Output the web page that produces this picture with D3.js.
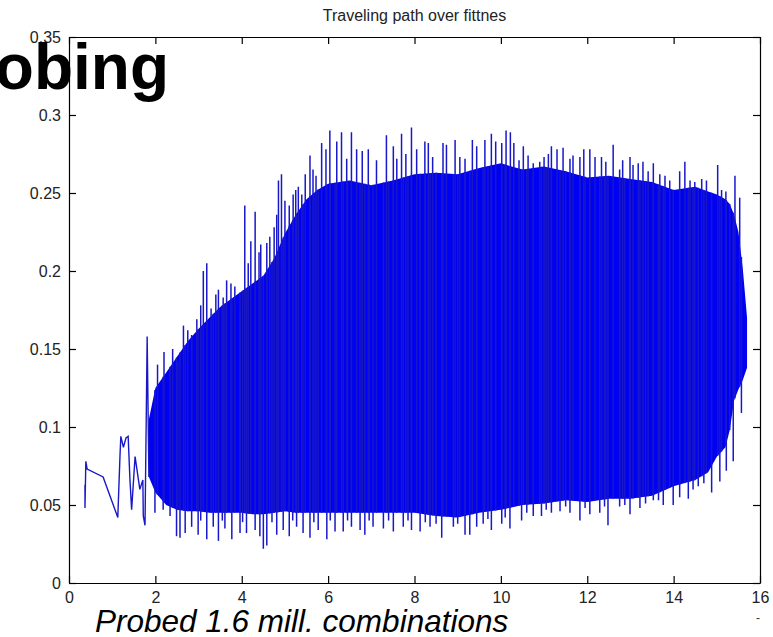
<!DOCTYPE html>
<html>
<head>
<meta charset="utf-8">
<script src="https://cdn.jsdelivr.net/npm/d3@7"></script>
<style>
  html, body { margin: 0; padding: 0; background: #fff; }
  svg { display: block; }
</style>
</head>
<body>
<div id="chart"></div>
<script>
// tick values / labels
var xTicks = [0, 2, 4, 6, 8, 10, 12, 14, 16];
var yTicks = [0, 0.05, 0.1, 0.15, 0.2, 0.25, 0.3, 0.35];
var yTickLabels = ["0", "0.05", "0.1", "0.15", "0.2", "0.25", "0.3", "0.35"];

// sparse start of the path (before the dense part)
var headX = [0.37, 0.37, 0.39, 0.42, 0.79, 1.13, 1.18, 1.20, 1.26, 1.32, 1.37, 1.41, 1.45, 1.53, 1.64, 1.71, 1.72, 1.76, 1.81, 1.85];
var headY = [0.063, 0.048, 0.078, 0.073, 0.068, 0.042, 0.081, 0.094, 0.087, 0.093, 0.094, 0.067, 0.047, 0.081, 0.060, 0.066, 0.043, 0.037, 0.158, 0.068];

// dense part: solid band, lower and upper edge
var bandX  = [1.85, 2.0, 2.25, 2.5, 2.75, 3.0, 3.25, 3.5, 3.75, 4.0, 4.25, 4.5, 4.75, 5.0, 5.25, 5.5, 5.75, 6.0, 6.5, 7.0, 7.5, 8.0, 8.5, 9.0, 9.5, 10.0, 10.5, 11.0, 11.5, 12.0, 12.5, 13.0, 13.5, 14.0, 14.5, 14.8, 15.0, 15.2, 15.3, 15.4, 15.5, 15.6, 15.7];
var bandHi = [0.105, 0.125, 0.135, 0.145, 0.155, 0.163, 0.170, 0.177, 0.182, 0.187, 0.192, 0.197, 0.208, 0.224, 0.236, 0.246, 0.252, 0.256, 0.258, 0.255, 0.258, 0.262, 0.263, 0.262, 0.266, 0.269, 0.265, 0.267, 0.264, 0.260, 0.261, 0.259, 0.257, 0.252, 0.254, 0.251, 0.249, 0.246, 0.243, 0.236, 0.225, 0.202, 0.170];
var bandLo = [0.068, 0.058, 0.050, 0.047, 0.046, 0.046, 0.045, 0.045, 0.045, 0.045, 0.044, 0.044, 0.045, 0.046, 0.045, 0.045, 0.045, 0.045, 0.045, 0.045, 0.045, 0.045, 0.043, 0.042, 0.045, 0.047, 0.050, 0.051, 0.053, 0.052, 0.054, 0.054, 0.056, 0.062, 0.066, 0.071, 0.081, 0.087, 0.098, 0.117, 0.124, 0.130, 0.138];

// peaks sticking out of the top of the band
var peakX = [2.05, 2.2, 2.4, 2.52, 2.65, 2.75, 2.84, 2.96, 3.05, 3.11, 3.19, 3.29, 3.40, 3.46, 3.57, 3.65, 3.75, 3.84, 3.96, 4.07, 4.15, 4.21, 4.31, 4.40, 4.44, 4.58, 4.65, 4.75, 4.81, 4.85, 4.92, 5.00, 5.10, 5.19, 5.25, 5.31, 5.39, 5.47, 5.58, 5.65, 5.72, 5.85, 5.95, 6.04, 6.20, 6.31, 6.43, 6.54, 6.66, 6.79, 6.93, 7.12, 7.35, 7.51, 7.59, 7.70, 7.80, 7.93, 8.05, 8.24, 8.32, 8.42, 8.66, 8.74, 8.94, 9.05, 9.17, 9.34, 9.44, 9.63, 9.78, 9.88, 10.02, 10.12, 10.22, 10.30, 10.42, 10.52, 10.63, 10.75, 10.90, 11.00, 11.10, 11.17, 11.30, 11.44, 11.60, 11.67, 11.83, 11.92, 12.06, 12.18, 12.33, 12.43, 12.60, 12.75, 12.82, 12.99, 13.06, 13.18, 13.29, 13.41, 13.53, 13.68, 13.80, 13.91, 14.14, 14.26, 14.38, 14.49, 14.65, 14.76, 15.02, 15.11, 15.21, 15.30, 15.42, 15.53];
var peakY = [0.140, 0.148, 0.150, 0.142, 0.165, 0.162, 0.159, 0.169, 0.178, 0.200, 0.205, 0.176, 0.185, 0.188, 0.183, 0.194, 0.192, 0.190, 0.177, 0.242, 0.205, 0.219, 0.238, 0.212, 0.217, 0.218, 0.222, 0.228, 0.236, 0.258, 0.262, 0.245, 0.242, 0.249, 0.252, 0.254, 0.249, 0.262, 0.274, 0.265, 0.261, 0.282, 0.278, 0.290, 0.283, 0.289, 0.272, 0.289, 0.278, 0.277, 0.278, 0.271, 0.287, 0.280, 0.272, 0.288, 0.275, 0.292, 0.278, 0.283, 0.282, 0.273, 0.282, 0.281, 0.284, 0.273, 0.272, 0.284, 0.280, 0.284, 0.288, 0.283, 0.282, 0.290, 0.289, 0.282, 0.271, 0.280, 0.274, 0.269, 0.270, 0.273, 0.275, 0.280, 0.278, 0.279, 0.272, 0.274, 0.273, 0.278, 0.278, 0.273, 0.273, 0.270, 0.281, 0.265, 0.271, 0.273, 0.268, 0.269, 0.270, 0.264, 0.269, 0.262, 0.261, 0.258, 0.264, 0.270, 0.258, 0.257, 0.259, 0.258, 0.268, 0.252, 0.251, 0.243, 0.261, 0.247];

// dips sticking out of the bottom of the band
var dipX = [1.99, 2.18, 2.34, 2.49, 2.57, 2.69, 2.84, 2.99, 3.05, 3.19, 3.34, 3.46, 3.55, 3.61, 3.77, 3.96, 4.02, 4.11, 4.31, 4.42, 4.50, 4.58, 4.70, 4.81, 4.96, 5.10, 5.18, 5.27, 5.42, 5.58, 5.67, 5.77, 5.97, 6.05, 6.16, 6.35, 6.45, 6.54, 6.74, 6.85, 6.95, 7.04, 7.28, 7.40, 7.51, 7.74, 7.85, 7.93, 8.13, 8.25, 8.36, 8.50, 8.63, 8.90, 9.00, 9.17, 9.28, 9.44, 9.59, 9.70, 9.78, 10.02, 10.10, 10.21, 10.48, 10.60, 10.75, 10.94, 11.05, 11.17, 11.37, 11.50, 11.60, 11.83, 11.95, 12.06, 12.29, 12.40, 12.48, 12.75, 12.87, 12.99, 13.22, 13.35, 13.53, 13.65, 13.76, 13.99, 14.14, 14.34, 14.45, 14.57, 14.70, 14.88, 15.07, 15.22, 15.38, 15.57];
var dipY = [0.045, 0.047, 0.043, 0.030, 0.029, 0.032, 0.036, 0.031, 0.040, 0.028, 0.036, 0.027, 0.040, 0.035, 0.028, 0.032, 0.039, 0.032, 0.034, 0.030, 0.022, 0.024, 0.039, 0.031, 0.034, 0.030, 0.040, 0.036, 0.032, 0.029, 0.039, 0.034, 0.028, 0.040, 0.033, 0.033, 0.040, 0.036, 0.034, 0.031, 0.040, 0.036, 0.035, 0.040, 0.033, 0.036, 0.040, 0.034, 0.033, 0.039, 0.036, 0.038, 0.029, 0.036, 0.038, 0.031, 0.031, 0.036, 0.038, 0.041, 0.034, 0.038, 0.042, 0.035, 0.040, 0.045, 0.043, 0.043, 0.047, 0.045, 0.046, 0.049, 0.045, 0.040, 0.048, 0.044, 0.045, 0.049, 0.037, 0.049, 0.050, 0.044, 0.048, 0.051, 0.053, 0.053, 0.050, 0.050, 0.055, 0.054, 0.060, 0.062, 0.064, 0.058, 0.065, 0.072, 0.078, 0.109];

var W = 773, H = 637;
var margin = {top: 37, right: 13, bottom: 54, left: 69};
var blue = "#0000f4";
var edgeBlue = "#1818c8";

var svg = d3.select("#chart").append("svg")
    .attr("width", W)
    .attr("height", H);

var x = d3.scaleLinear().domain([0, 16]).range([margin.left, W - margin.right]);
var y = d3.scaleLinear().domain([0, 0.35]).range([H - margin.bottom, margin.top]);

// edge lookups so each spike reaches across the band
var hiAt = d3.scaleLinear().domain(bandX).range(bandHi).clamp(true);
var loAt = d3.scaleLinear().domain(bandX).range(bandLo).clamp(true);

var plot = svg.append("g");

// solid band
var band = bandX.map(function(d, i) { return {x: d, lo: bandLo[i], hi: bandHi[i]}; });
plot.append("path")
    .datum(band)
    .attr("fill", blue)
    .attr("d", d3.area()
        .x(function(d) { return x(d.x); })
        .y0(function(d) { return y(d.lo); })
        .y1(function(d) { return y(d.hi); }));

// peaks
plot.selectAll(".peak")
    .data(peakX)
    .enter().append("line")
    .attr("class", "peak")
    .attr("x1", function(d) { return x(d); })
    .attr("x2", function(d) { return x(d); })
    .attr("y1", function(d, i) { return y(peakY[i]); })
    .attr("y2", function(d) { return y(loAt(d)); })
    .attr("stroke", edgeBlue)
    .attr("stroke-width", 1.5);

// dips
plot.selectAll(".dip")
    .data(dipX)
    .enter().append("line")
    .attr("class", "dip")
    .attr("x1", function(d) { return x(d); })
    .attr("x2", function(d) { return x(d); })
    .attr("y1", function(d, i) { return y(dipY[i]); })
    .attr("y2", function(d) { return y(hiAt(d)); })
    .attr("stroke", edgeBlue)
    .attr("stroke-width", 1.5);

// sparse head of the path
var head = headX.map(function(d, i) { return [d, headY[i]]; });
plot.append("path")
    .datum(head)
    .attr("fill", "none")
    .attr("stroke", edgeBlue)
    .attr("stroke-width", 1.4)
    .attr("d", d3.line()
        .x(function(d) { return x(d[0]); })
        .y(function(d) { return y(d[1]); }));

// axes box, ticks pointing inward (matlab style)
var tickColor = "#222";
var axisFont = "Liberation Sans, Arial, sans-serif";

var bottomAxis = svg.append("g")
    .attr("transform", "translate(0," + y(0) + ")")
    .call(d3.axisBottom(x).tickValues(xTicks).tickSizeInner(-7).tickSizeOuter(0).tickPadding(9));
var topAxis = svg.append("g")
    .attr("transform", "translate(0," + y(0.35) + ")")
    .call(d3.axisTop(x).tickValues(xTicks).tickSizeInner(-7).tickSizeOuter(0).tickFormat(""));
var leftAxis = svg.append("g")
    .attr("transform", "translate(" + x(0) + ",0)")
    .call(d3.axisLeft(y).tickValues(yTicks).tickSizeInner(-7).tickSizeOuter(0).tickPadding(8)
        .tickFormat(function(d, i) { return yTickLabels[i]; }));
var rightAxis = svg.append("g")
    .attr("transform", "translate(" + x(16) + ",0)")
    .call(d3.axisRight(y).tickValues(yTicks).tickSizeInner(-7).tickSizeOuter(0).tickFormat(""));

[bottomAxis, topAxis, leftAxis, rightAxis].forEach(function(g) {
    g.selectAll(".domain").attr("stroke", "#000").attr("stroke-width", 1.2);
    g.selectAll(".tick line").attr("stroke", "#000").attr("stroke-width", 1.2);
    g.selectAll("text")
        .attr("fill", tickColor)
        .style("font-family", axisFont)
        .style("font-size", "16px");
});

// title
svg.append("text")
    .attr("x", (x(0) + x(16)) / 2)
    .attr("y", 21)
    .attr("text-anchor", "middle")
    .attr("fill", tickColor)
    .style("font-family", axisFont)
    .style("font-size", "16px")
    .text("Traveling path over fittnes");

// slide overlay text
svg.append("text")
    .attr("x", 169)
    .attr("y", 89)
    .attr("text-anchor", "end")
    .attr("fill", "#000")
    .style("font-family", axisFont)
    .style("font-weight", "bold")
    .style("font-size", "64px")
    .text("Probing");

svg.append("text")
    .attr("x", 95)
    .attr("y", 632)
    .attr("fill", "#000")
    .style("font-family", axisFont)
    .style("font-style", "italic")
    .style("font-size", "31.5px")
    .text("Probed 1.6 mill. combinations");

svg.append("text")
    .attr("x", 758)
    .attr("y", 622)
    .attr("text-anchor", "middle")
    .attr("fill", "#333")
    .style("font-family", axisFont)
    .style("font-size", "12px")
    .text("-");
</script>
</body>
</html>
